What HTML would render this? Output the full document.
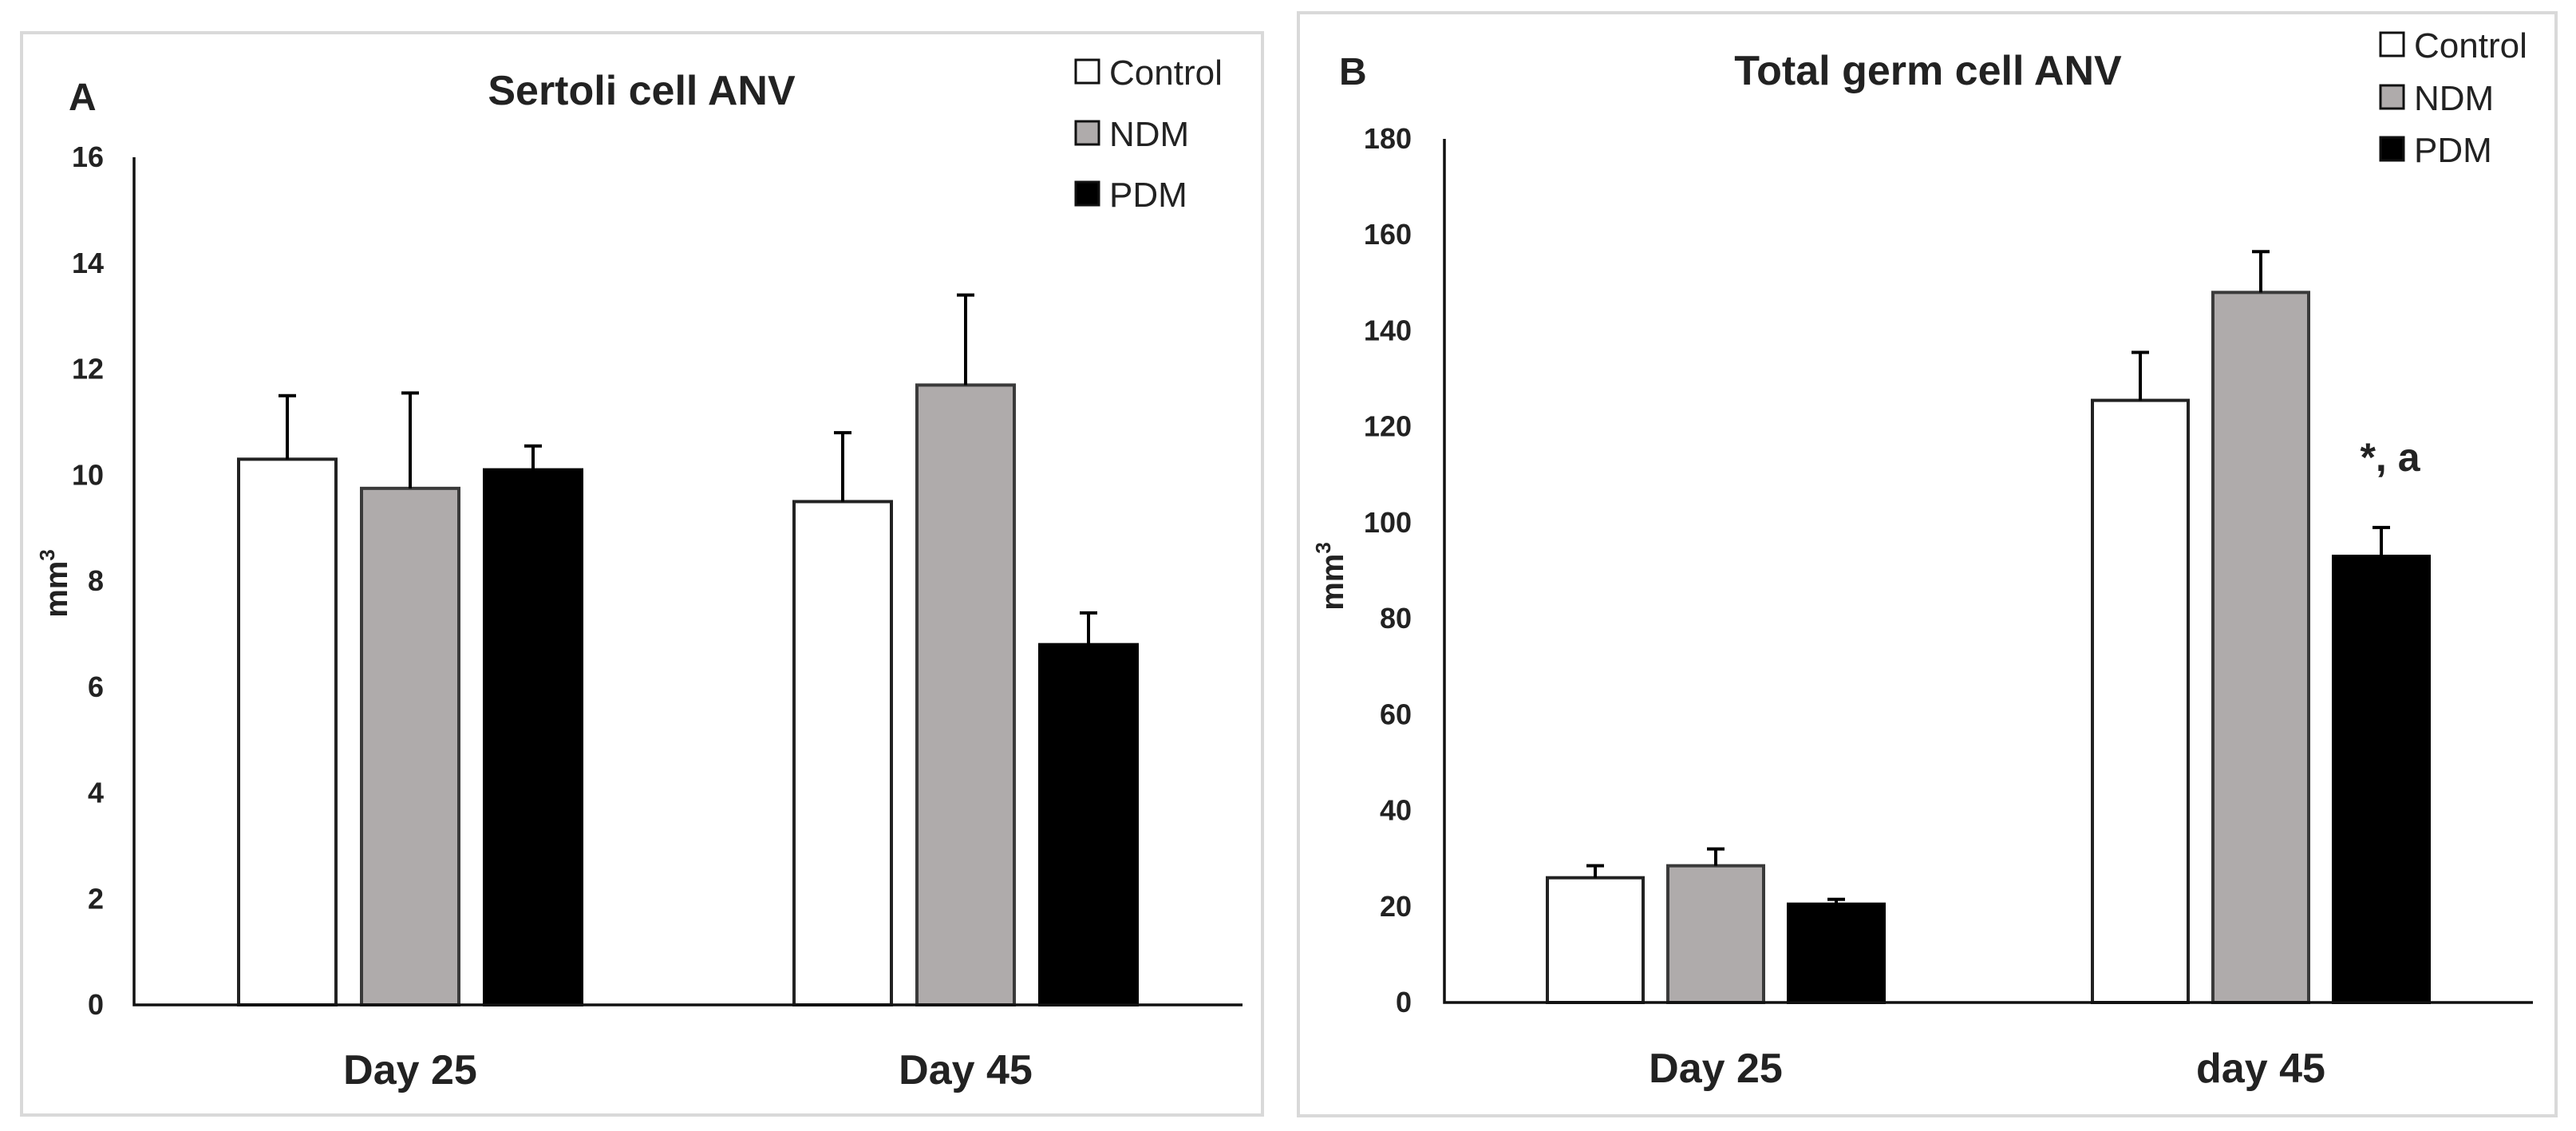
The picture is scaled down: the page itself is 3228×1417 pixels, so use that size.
<!DOCTYPE html>
<html><head><meta charset="utf-8">
<style>
html,body{margin:0;padding:0;background:#fff;}
svg{display:block;font-family:"Liberation Sans",Arial,sans-serif;}
</style></head>
<body>
<svg id="chart" width="3228" height="1417" viewBox="0 0 3228 1417" xmlns="http://www.w3.org/2000/svg">
<rect x="0" y="0" width="3228" height="1417" fill="#fff"/>
</svg>
<script>
// Panel A data
const categoriesA = ["Day 25", "Day 45"];
const seriesNames = ["Control", "NDM", "PDM"];
const controlA = [10.3, 9.5];
const ndmA = [9.75, 11.7];
const pdmA = [10.1, 6.8];
const controlErrA = [1.2, 1.3];
const ndmErrA = [1.8, 1.7];
const pdmErrA = [0.45, 0.6];
const ticksA = [0, 2, 4, 6, 8, 10, 12, 14, 16];
// Panel B data
const categoriesB = ["Day 25", "day 45"];
const controlB = [26, 125.5];
const ndmB = [28.5, 148];
const pdmB = [20.5, 93];
const controlErrB = [2.5, 10];
const ndmErrB = [3.5, 8.5];
const pdmErrB = [1, 6];
const ticksB = [0, 20, 40, 60, 80, 100, 120, 140, 160, 180];

const NS = "http://www.w3.org/2000/svg";
const svg = document.getElementById("chart");
const fills = ["#ffffff", "#afabab", "#000000"];
const strokes = ["#222", "#3a3a3a", "#000"];

function mk(tag, attrs, parent, text) {
  const e = document.createElementNS(NS, tag);
  for (const k in attrs) e.setAttribute(k, attrs[k]);
  if (text !== undefined) e.textContent = text;
  (parent || svg).appendChild(e);
  return e;
}

function panel(p) {
  const g = mk("g", {});
  
  
  const border = mk("rect", {x: p.bx, y: p.by, width: p.bw, height: p.bh, fill: "none", stroke: "#d9d9d9", "stroke-width": 4}, g);
  
  
  const yMax = p.ticks[p.ticks.length - 1];
  const yS = v => p.y0 - (v / yMax) * (p.y0 - p.yTop);
  p.ticks.forEach(t => {
    const tl = mk("text", {x: p.tickX, y: yS(t) + 12, "text-anchor": "end", "font-size": 36, "font-weight": "bold", fill: "#222"}, g, String(t));
    
    
  });
  const sets = [p.control, p.ndm, p.pdm];
  const errs = [p.controlErr, p.ndmErr, p.pdmErr];
  p.cats.forEach((c, ci) => {
    sets.forEach((vals, si) => {
      const cx = p.groupCenters[ci] + (si - 1) * p.step;
      const top = yS(vals[ci]);
      const bar = mk("rect", {x: cx - p.bw2 / 2, y: top, width: p.bw2, height: p.y0 - top, fill: fills[si], stroke: strokes[si], "stroke-width": 4}, g);
      
      
      const et = yS(vals[ci] + errs[si][ci]);
      const el = mk("path", {d: `M${cx},${top} V${et} M${cx - 11},${et} H${cx + 11}`, stroke: "#000", "stroke-width": 4, fill: "none"}, g);
      
      
    });
    const cl = mk("text", {x: p.groupCenters[ci], y: p.catY, "text-anchor": "middle", "font-size": 52, "font-weight": "bold", fill: "#222"}, g, c);
    
    
  });
  const ax = mk("path", {d: `M${p.axX},${p.yTop} V${p.y0} H${p.axEnd}`, stroke: "#111", "stroke-width": 3.5, fill: "none"}, g);
  
  
  const ti = mk("text", {x: p.titleX, y: p.titleY, "text-anchor": "middle", "font-size": 52, "font-weight": "bold", fill: "#222"}, g, p.title);
  
  
  const le = mk("text", {x: p.letterX, y: p.letterY, "font-size": 48, "font-weight": "bold", fill: "#222"}, g, p.letter);
  
  
  const yt = mk("text", {transform: `translate(${p.ytX},${p.ytY}) rotate(-90)`, "text-anchor": "middle", "font-size": 40, "font-weight": "bold", fill: "#222"}, g);
  
  
  mk("tspan", {}, yt, "mm");
  mk("tspan", {dy: -16, "font-size": 26}, yt, "3");
  seriesNames.forEach((n, i) => {
    const ly = p.legY[i];
    const lg = mk("g", {}, g);
    
    
    mk("rect", {x: p.legX, y: ly, width: 29, height: 29, fill: fills[i], stroke: "#111", "stroke-width": 3}, lg);
    mk("text", {x: p.legX + 42, y: ly + 31, "font-size": 44, fill: "#222"}, lg, n);
  });
  return g;
}

panel({name: "panel-a-sertoli", bx: 27, by: 41, bw: 1555, bh: 1356,
  y0: 1259, yTop: 197, ticks: ticksA, tickX: 130, axX: 168, axEnd: 1557,
  cats: categoriesA, control: controlA, ndm: ndmA, pdm: pdmA,
  controlErr: controlErrA, ndmErr: ndmErrA, pdmErr: pdmErrA,
  groupCenters: [514, 1210], step: 154, bw2: 122, catY: 1358,
  title: "Sertoli cell ANV", titleX: 804, titleY: 131, letter: "A", letterX: 86, letterY: 138,
  ytX: 84, ytY: 731, legX: 1348, legY: [75, 152, 228]});

const gB = panel({name: "panel-b-germ", bx: 1627, by: 16, bw: 1576, bh: 1382,
  y0: 1256, yTop: 174, ticks: ticksB, tickX: 1769, axX: 1810, axEnd: 3174,
  cats: categoriesB, control: controlB, ndm: ndmB, pdm: pdmB,
  controlErr: controlErrB, ndmErr: ndmErrB, pdmErr: pdmErrB,
  groupCenters: [2150, 2833], step: 151, bw2: 120, catY: 1356,
  title: "Total germ cell ANV", titleX: 2416, titleY: 106, letter: "B", letterX: 1678, letterY: 106,
  ytX: 1683, ytY: 722, legX: 2983, legY: [41, 107, 172]});

const ann = mk("text", {x: 2995, y: 590, "text-anchor": "middle", "font-size": 50, "font-weight": "bold", fill: "#222"}, gB, "*, a");


</script>
</body></html>
